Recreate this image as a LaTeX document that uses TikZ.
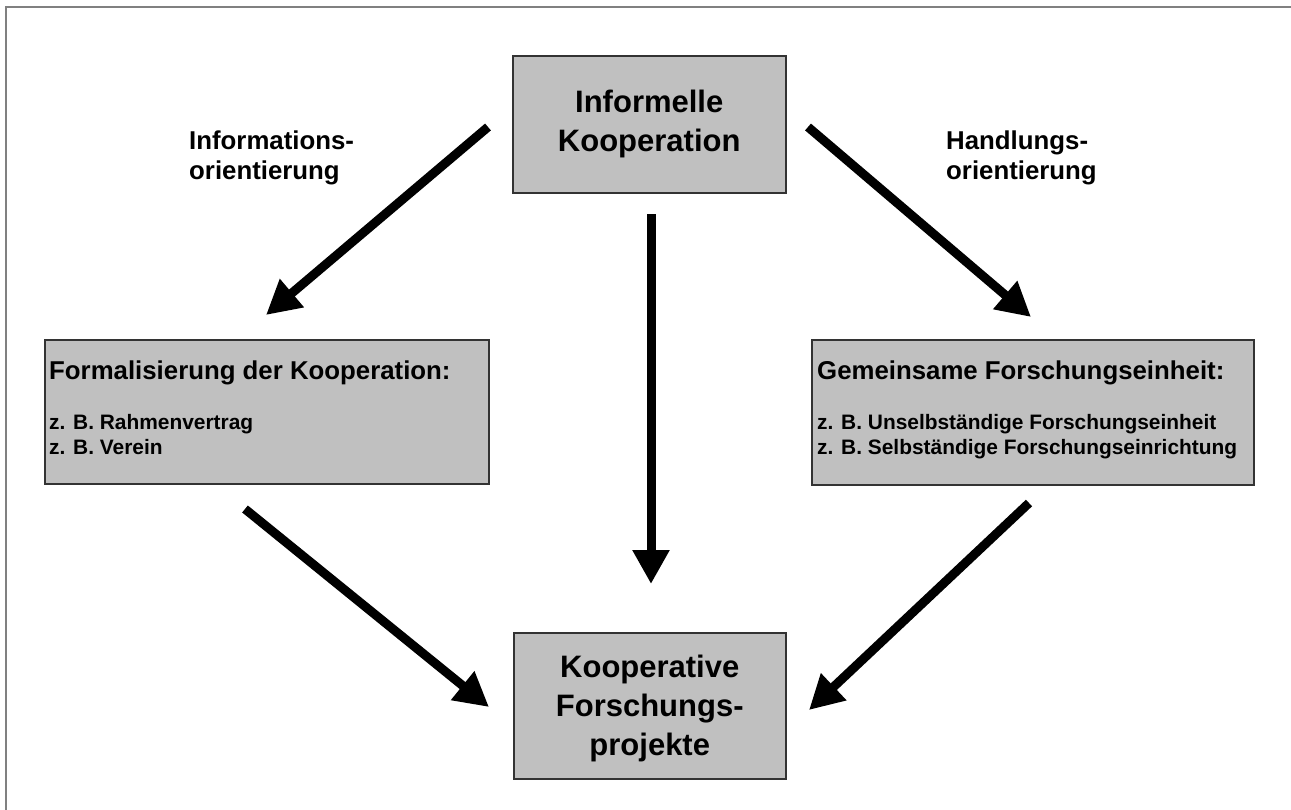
\documentclass[tikz,border=0pt]{standalone}
\usepackage{fontspec}
\setmainfont{Liberation Sans}
\usetikzlibrary{arrows.meta}
\definecolor{boxgray}{HTML}{C0C0C0}
\definecolor{boxline}{HTML}{333333}
\definecolor{framegray}{HTML}{808080}
\begin{document}
\begin{tikzpicture}[x=1pt,y=-1pt,
  box/.style={draw=boxline, line width=1.5pt, fill=boxgray, inner sep=0pt, anchor=north west},
  bigtext/.style={font=\bfseries\fontsize{31}{39}\selectfont, align=center},
  titletext/.style={font=\bfseries\fontsize{25.8}{30}\selectfont, inner sep=0pt, anchor=base west},
  itemtext/.style={font=\bfseries\fontsize{20.9}{25}\selectfont, inner sep=0pt, anchor=base west},
  labeltext/.style={font=\bfseries\fontsize{25.8}{30}\selectfont, inner sep=0pt, align=left, anchor=north west},
  flow/.style={line width=9pt, -{Triangle[length=34pt,width=35pt]}},
]
\clip (0,0) rectangle (1291,809);
% outer frame (right and bottom edges lie beyond the page)
\draw[framegray, line width=1.3pt] (6,7) rectangle (1320,840);

% boxes
\node[box, bigtext, minimum width=273pt, minimum height=137pt] (info) at (512,55) {Informelle\\Kooperation};
\node[box, minimum width=444pt, minimum height=144pt] (form) at (44,339) {};
\node[box, minimum width=442pt, minimum height=145pt] (unit) at (811,339) {};
\node[box, bigtext, text depth=0pt, minimum width=272pt, minimum height=146pt] (proj) at (513,632) {Kooperative\\Forschungs-\\projekte};

% box contents
\node[titletext] (formTitle) at (49,379) {Formalisierung der Kooperation:};
\node[itemtext] (formA) at (49,429) {z. B. Rahmenvertrag};
\node[itemtext] (formB) at (49,454) {z. B. Verein};
\node[titletext] (unitTitle) at (817,379) {Gemeinsame Forschungseinheit:};
\node[itemtext] (unitA) at (817,429) {z. B. Unselbständige Forschungseinheit};
\node[itemtext] (unitB) at (817,454) {z. B. Selbständige Forschungseinrichtung};

% arrow labels
\node[labeltext] (infoLabel) at (189,131) {Informations-\\orientierung};
\node[labeltext] (actLabel) at (946,131) {Handlungs-\\orientierung};

% arrow end points
\coordinate (a1s) at (488,127);  \coordinate (a1e) at (266,315);
\coordinate (a2s) at (808,127);  \coordinate (a2e) at (1031,317);
\coordinate (a3s) at (651,214);  \coordinate (a3e) at (651,584);
\coordinate (a4s) at (245,509);  \coordinate (a4e) at (489,707);
\coordinate (a5s) at (1029,503); \coordinate (a5e) at (809,710);

\draw[flow] (a1s) -- (a1e);
\draw[flow] (a2s) -- (a2e);
\draw[flow] (a3s) -- (a3e);
\draw[flow] (a4s) -- (a4e);
\draw[flow] (a5s) -- (a5e);
\end{tikzpicture}
\end{document}
